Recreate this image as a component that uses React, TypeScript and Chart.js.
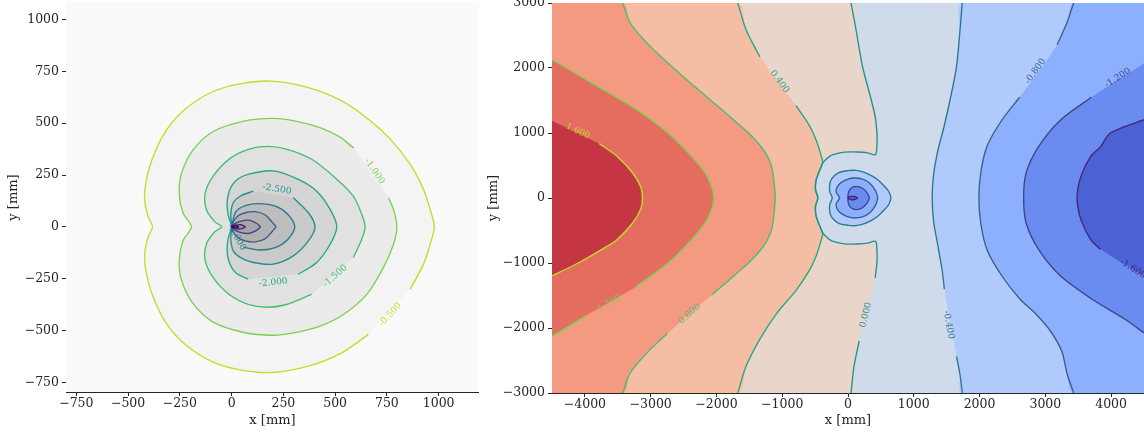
import React, { useEffect, useRef } from "react";
import { Chart, registerables } from "chart.js";

Chart.register(...registerables);

type P = [number, number] | null;

const FONT = "DejaVu Serif";
const INK = "#262626";
const TENSION = 0.3;

/* ======================= LEFT PANEL ======================= */
const L_X_MIN = -800;
const L_X_MAX = 1195;
const L_Y_MIN = -797;
const L_Y_MAX = 1080;
const L_X_TICKS = [-750, -500, -250, 0, 250, 500, 750, 1000];
const L_Y_TICKS = [-750, -500, -250, 0, 250, 500, 750, 1000];
const L_BG = "#fafafa";
const L_LEVELS = [-0.5, -1.0, -1.5, -2.0, -2.5, -3.0, -3.5, -4.0, -4.5, -5.0];
const L_LINE_COLORS = ["#bddf26", "#7ad151", "#44bf70", "#22a884", "#21918c", "#2a788e", "#355f8d", "#414487", "#482475", "#440154"];
const L_FILL_COLORS = ["#f4f4f4", "#ebebeb", "#e1e1e1", "#d5d5d5", "#cacaca", "#bebebe", "#b2b2b2", "#a6a6a6", "#9a9a9a", "#8e8e8e"];

// contour paths (mm); labelled loops start/end at the label gap
const L_C050: P[] = [[863, -301], [927, -180], [959, -84], [979, 0], [959, 84], [927, 180], [863, 301], [766, 423], [661, 519], [532, 608], [371, 672], [190, 703], [40, 690], [-89, 653], [-218, 573], [-314, 468], [-379, 339], [-415, 210], [-420, 129], [-403, 48], [-382, 0], [-403, -48], [-420, -129], [-415, -210], [-379, -339], [-314, -468], [-218, -573], [-89, -653], [40, -690], [190, -703], [371, -672], [532, -608], [661, -519]];
const L_C100: P[] = [[590, 380], [520, 435], [430, 478], [320, 508], [200, 523], [60, 510], [-89, 460], [-186, 371], [-242, 258], [-253, 161], [-234, 65], [-194, 0], [-234, -65], [-253, -161], [-242, -258], [-186, -371], [-89, -460], [60, -510], [200, -523], [320, -508], [430, -478], [540, -423], [653, -326], [733, -197], [782, -84], [798, 0], [782, 84], [758, 140]];
const L_C150: P[] = [[588, -148], [629, -59], [645, 0], [629, 59], [588, 148], [500, 237], [387, 326], [260, 376], [170, 388], [80, 374], [-10, 328], [-89, 245], [-128, 161], [-121, 81], [-81, 24], [-48, 0], [-81, -24], [-121, -81], [-128, -161], [-89, -245], [-10, -328], [80, -374], [170, -388], [260, -376], [387, -326]];
const L_C200: P[] = [[322, -229], [411, -172], [476, -84], [508, 0], [476, 84], [411, 172], [322, 229], [201, 270], [80, 253], [20, 222], [-12, 170], [-22, 110], [-15, 50], [0, 0], [-15, -50], [-22, -110], [-12, -170], [20, -222], [80, -253]];
const L_C250: P[] = [[105, 172], [45, 150], [8, 116], [-4, 60], [0, 0], [-4, -60], [8, -116], [45, -150], [105, -172], [201, -180], [298, -140], [371, -68], [403, 0], [371, 68], [298, 140]];
const L_C300: P[] = [[56, -98], [131, -112], [211, -100], [270, -62], [305, 0], [270, 62], [211, 100], [131, 112], [66, 102], [20, 72], [0, 0]];
const L_C350: P[] = [[215, 0], [195, 24], [163, 57], [114, 73], [66, 68], [26, 48], [0, 0], [26, -48], [66, -68], [114, -73], [163, -57], [195, -24], [215, 0]];
const L_C400: P[] = [[140, 0], [122, 16], [82, 32], [34, 24], [0, 0], [34, -24], [82, -32], [122, -16], [140, 0]];
const L_C450: P[] = [[68, 0], [45, 10], [17, 8], [0, 0], [17, -8], [45, -10], [68, 0]];
const L_C500: P[] = [[36, 0], [22, 4], [8, 3], [0, 0], [8, -3], [22, -4], [36, 0]];
const L_PATHS = [L_C050, L_C100, L_C150, L_C200, L_C250, L_C300, L_C350, L_C400, L_C450, L_C500];
const L_LABEL_AT: ([number, number] | null)[] = [[766, -423], [690, 268], [500, -237], [201, -269], [219, 181], [24, -51], null, null, null, null];

/* ======================= RIGHT PANEL ======================= */
const R_X_MIN = -4500;
const R_X_MAX = 4500;
const R_Y_MIN = -3000;
const R_Y_MAX = 3000;
const R_X_TICKS = [-4000, -3000, -2000, -1000, 0, 1000, 2000, 3000, 4000];
const R_Y_TICKS = [-3000, -2000, -1000, 0, 1000, 2000, 3000];
const R_LEVELS = [1.6, 1.2, 0.8, 0.4, 0.0, -0.4, -0.8, -1.2, -1.6];
const R_LINE_COLORS = ["#bddf26", "#7ad151", "#44bf70", "#22a884", "#21918c", "#2a788e", "#355f8d", "#414487", "#482475"];
// band colours from highest (>1.6) to lowest (<-1.6)
const R_BANDS = ["#c63543", "#e46d60", "#f49a81", "#f6bda5", "#e9d5ca", "#cfdaea", "#b0cafc", "#8db0fe", "#6a8cf0", "#4a62d3"];

const R_C160: P[] = [[-4500, 1190], null, [-3780, 836], [-3512, 641], [-3274, 385], [-3150, 170], [-3125, 0], [-3150, -170], [-3274, -385], [-3512, -641], [-3749, -795], [-4100, -1000], [-4500, -1200]];
const R_C120: P[] = [[-4500, 2128], [-3810, 1718], [-3214, 1359], [-2738, 1000], [-2381, 641], [-2143, 333], [-2042, 0], [-2143, -333], [-2381, -641], [-2738, -1000], [-3214, -1359], null, [-4000, -1820], [-4500, -2128]];
const R_C080: P[] = [[-3425, 3000], [-3311, 2692], [-3080, 2410], [-2870, 2200], [-2640, 1990], [-2350, 1730], [-2070, 1490], [-1870, 1320], [-1670, 1140], [-1500, 990], [-1345, 820], [-1240, 670], [-1161, 487], [-1125, 250], [-1107, 0], [-1125, -250], [-1161, -487], [-1240, -670], [-1345, -820], [-1500, -990], [-1670, -1140], [-1870, -1320], [-2070, -1490], null, [-2750, -2090], [-2870, -2200], [-3080, -2410], [-3311, -2692], [-3425, -3000]];
const R_C040: P[] = [[-1676, 3000], [-1550, 2590], [-1340, 2170], null, [-790, 1420], [-585, 1110], [-480, 880], [-420, 690], [-383, 540], [-407, 486], [-483, 282], [-494, 128], [-459, 0], [-494, -128], [-483, -282], [-407, -486], [-383, -540], [-420, -690], [-480, -880], [-585, -1110], [-790, -1420], [-1080, -1770], [-1340, -2170], [-1550, -2590], [-1676, -3000]];
const R_C000: P[] = [[46, 3000], [120, 2600], [220, 2025], [330, 1600], [412, 1256], [440, 1000], [440, 830], [418, 666], [300, 695], [150, 708], [-53, 705], [-200, 675], [-281, 640], [-383, 540], [-407, 486], [-483, 282], [-494, 128], [-459, 0], [-494, -128], [-483, -282], [-407, -486], [-383, -540], [-281, -640], [-200, -675], [-53, -705], [150, -708], [300, -695], [418, -666], [440, -830], [440, -1000], [412, -1230], null, [170, -2200], [90, -2600], [46, -3000]];
const R_CM040: P[] = [[1737, 3000], [1700, 2550], [1650, 2025], [1560, 1550], [1460, 1100], [1360, 700], [1300, 350], [1280, 0], [1300, -350], [1360, -700], [1430, -1100], [1465, -1400], null, [1650, -2437], [1700, -2700], [1737, -3000]];
const R_CM080: P[] = [[3430, 3000], [3330, 2700], [3180, 2358], null, [2610, 1550], [2340, 1200], [2115, 800], [2020, 400], [1990, 0], [2020, -400], [2115, -800], [2340, -1200], [2610, -1550], [2870, -1800], [3080, -2050], [3250, -2358], [3330, -2700], [3430, -3000]];
const R_CM120: P[] = [[4500, 2075], null, [3700, 1550], [3220, 1190], [2890, 780], [2708, 385], [2670, 0], [2708, -385], [2890, -780], [3220, -1190], [3700, -1550], [4217, -1870], [4500, -2075]];
const R_CM160: P[] = [[4500, 1205], [3988, 1000], [3840, 790], [3690, 641], [3541, 333], [3482, 0], [3541, -333], [3690, -641], [3840, -790], null, [4500, -1205]];
const R_PATHS = [R_C160, R_C120, R_C080, R_C040, R_C000, R_CM040, R_CM080, R_CM120, R_CM160];
const R_LABEL_AT: [number, number][] = [[-4107, 1026], [-3632, -1615], [-2406, -1785], [-1040, 1790], [270, -1800], [1530, -1950], [2850, 1950], [4102, 1846], [4330, -1090]];

// closed contours around the source near the origin
const R_BM040: P[] = [[656, 0], [620, 100], [555, 178], [470, 265], [377, 332], [250, 395], [125, 425], [0, 420], [-129, 395], [-215, 335], [-265, 260], [-281, 178], [-275, 90], [-240, 0], [-275, -90], [-281, -178], [-265, -260], [-215, -335], [-129, -395], [0, -420], [125, -425], [250, -395], [377, -332], [470, -265], [555, -178], [620, -100], [656, 0]];
const R_BM080: P[] = [[453, 0], [420, 110], [327, 231], [220, 290], [99, 307], [0, 290], [-100, 240], [-165, 170], [-180, 90], [-129, 0], [-180, -90], [-165, -170], [-100, -240], [0, -290], [99, -307], [220, -290], [327, -231], [420, -110], [453, 0]];
const R_BM120: P[] = [[327, 0], [290, 80], [220, 150], [125, 178], [45, 150], [5, 80], [0, 0], [5, -80], [45, -150], [125, -178], [220, -150], [290, -80], [327, 0]];
const R_BM160: P[] = [[149, 0], [110, 20], [60, 28], [20, 18], [0, 0], [20, -18], [60, -28], [110, -20], [149, 0]];
const R_BLOB = [R_BM040, R_BM080, R_BM120, R_BM160];
const R_BLOB_LEVELS = [-0.4, -0.8, -1.2, -1.6];

/* ======================= helpers ======================= */
const xy = (pts: P[]) => pts.filter((p) => p !== null).map((p) => ({ x: (p as any)[0], y: (p as any)[1] }));

function split(pts: P[]): [number, number][][] {
  const out: [number, number][][] = [[]];
  for (const p of pts) {
    if (p === null) out.push([]);
    else out[out.length - 1].push(p);
  }
  return out.filter((s) => s.length > 1);
}

function gapEnds(pts: P[]): [[number, number], [number, number]] {
  const i = pts.indexOf(null);
  if (i >= 0) return [pts[i - 1] as any, pts[i + 1] as any];
  return [pts[pts.length - 1] as any, pts[0] as any];
}

const fillDs = (pts: P[], color: string) => ({
  data: xy(pts),
  fill: "shape",
  backgroundColor: color,
  borderColor: "rgba(0,0,0,0)",
  borderWidth: 0,
  pointRadius: 0,
  tension: TENSION,
});

const lineDs = (pts: P[], color: string) => ({
  data: xy(pts),
  fill: false,
  borderColor: color,
  borderWidth: 1.35,
  pointRadius: 0,
  tension: TENSION,
});

const fmt = (v: number) => (v < 0 ? "\u2212" + Math.abs(v) : String(v));

function scale(min: number, max: number, ticks: number[], title: string, isX: boolean, size: number) {
  return {
    type: "linear",
    min,
    max,
    afterBuildTicks: (ax: any) => {
      ax.ticks = ticks.map((v) => ({ value: v }));
    },
    afterFit: (ax: any) => {
      if (isX) ax.height = size;
      else ax.width = size;
      ax.paddingLeft = 0;
      ax.paddingRight = 0;
      ax.paddingTop = 0;
      ax.paddingBottom = 0;
    },
    grid: { display: true, drawOnChartArea: false, drawTicks: true, tickLength: 4, color: INK, tickColor: INK, lineWidth: 1 },
    border: { display: true, color: INK, width: 1 },
    ticks: {
      autoSkip: false,
      maxRotation: 0,
      minRotation: 0,
      padding: isX ? 0 : 3,
      color: INK,
      font: { family: FONT, size: 12.5 },
      callback: (v: any) => fmt(Number(v)),
    },
    title: {
      display: true,
      text: title,
      color: INK,
      font: { family: FONT, size: 13 },
      padding: isX ? { top: 0, bottom: 6.5 } : { top: 6, bottom: 0 },
    },
  };
}

type Lbl = { text: string; at: [number, number]; color: string; g: [[number, number], [number, number]] };

function labelPlugin(items: Lbl[]) {
  return {
    id: "clabels",
    afterDatasetsDraw(chart: any) {
      const { ctx } = chart;
      const xs = chart.scales.x;
      const ys = chart.scales.y;
      ctx.save();
      ctx.font = `9px "${FONT}"`;
      ctx.textAlign = "center";
      ctx.textBaseline = "middle";
      for (const it of items) {
        const ax = xs.getPixelForValue(it.g[0][0]);
        const ay = ys.getPixelForValue(it.g[0][1]);
        const bx = xs.getPixelForValue(it.g[1][0]);
        const by = ys.getPixelForValue(it.g[1][1]);
        let a = Math.atan2(by - ay, bx - ax);
        if (a > Math.PI / 2) a -= Math.PI;
        if (a < -Math.PI / 2) a += Math.PI;
        const px = xs.getPixelForValue(it.at[0]);
        const py = ys.getPixelForValue(it.at[1]);
        ctx.save();
        ctx.translate(px, py);
        ctx.rotate(a);
        ctx.fillStyle = it.color;
        ctx.fillText(it.text, 0, 0);
        ctx.restore();
      }
      ctx.restore();
    },
  };
}

function bgPlugin(color: string) {
  return {
    id: "areabg",
    beforeDatasetsDraw(chart: any) {
      const { ctx, chartArea: a } = chart;
      ctx.save();
      ctx.fillStyle = color;
      ctx.fillRect(a.left, a.top, a.right - a.left, a.bottom - a.top);
      ctx.restore();
    },
  };
}

function withOrder(layers: any[]) {
  return layers.map((d, i) => ({ ...d, order: layers.length - i }));
}

function baseOptions(scales: any, padRight: number) {
  return {
    responsive: false,
    maintainAspectRatio: false,
    animation: false,
    events: [],
    layout: { padding: { left: 0, right: padRight, top: 3, bottom: 0 } },
    plugins: { legend: { display: false }, tooltip: { enabled: false } },
    elements: { point: { radius: 0 } },
    scales,
  };
}

function leftConfig(): any {
  const layers: any[] = [];
  L_PATHS.forEach((pts, i) => layers.push(fillDs(pts, L_FILL_COLORS[i])));
  L_PATHS.forEach((pts, i) => split(pts).forEach((s) => layers.push(lineDs(s, L_LINE_COLORS[i]))));
  const labels: Lbl[] = [];
  L_PATHS.forEach((pts, i) => {
    const at = L_LABEL_AT[i];
    if (at) labels.push({ text: L_LEVELS[i].toFixed(3), at, color: L_LINE_COLORS[i], g: gapEnds(pts) });
  });
  return {
    type: "line",
    data: { datasets: withOrder(layers) },
    options: baseOptions(
      {
        x: scale(L_X_MIN, L_X_MAX, L_X_TICKS, "x [mm]", true, 43),
        y: scale(L_Y_MIN, L_Y_MAX, L_Y_TICKS, "y [mm]", false, 66),
      },
      0
    ),
    plugins: [bgPlugin(L_BG), labelPlugin(labels)],
  };
}

function rightConfig(): any {
  const layers: any[] = [];
  const TL: P = [R_X_MIN, R_Y_MAX];
  const BL: P = [R_X_MIN, R_Y_MIN];
  const TR: P = [R_X_MAX, R_Y_MAX];
  const BR: P = [R_X_MAX, R_Y_MIN];
  const bandAbove = (lv: number) => R_BANDS[Math.round((1.6 - lv) / 0.4)];
  const bandBelow = (lv: number) => R_BANDS[Math.round((1.6 - lv) / 0.4) + 1];
  // high side: widest first
  [4, 3, 2, 1, 0].forEach((i) => {
    const pts = R_PATHS[i];
    const first = pts[0] as [number, number];
    const needCorners = Math.abs(first[1]) >= R_Y_MAX;
    layers.push(fillDs(needCorners ? [TL, ...pts, BL] : pts, bandAbove(R_LEVELS[i])));
  });
  // low side
  [5, 6, 7, 8].forEach((i) => {
    const pts = R_PATHS[i];
    const first = pts[0] as [number, number];
    const needCorners = Math.abs(first[1]) >= R_Y_MAX;
    layers.push(fillDs(needCorners ? [TR, ...pts, BR] : pts, bandBelow(R_LEVELS[i])));
  });
  R_BLOB.forEach((pts, i) => layers.push(fillDs(pts, bandBelow(R_BLOB_LEVELS[i]))));
  R_PATHS.forEach((pts, i) => split(pts).forEach((s) => layers.push(lineDs(s, R_LINE_COLORS[i]))));
  R_BLOB.forEach((pts, i) => layers.push(lineDs(pts, R_LINE_COLORS[R_LEVELS.indexOf(R_BLOB_LEVELS[i])])));
  const labels: Lbl[] = R_PATHS.map((pts, i) => ({
    text: R_LEVELS[i].toFixed(3),
    at: R_LABEL_AT[i],
    color: R_LINE_COLORS[i],
    g: gapEnds(pts),
  }));
  return {
    type: "line",
    data: { datasets: withOrder(layers) },
    options: baseOptions(
      {
        x: scale(R_X_MIN, R_X_MAX, R_X_TICKS, "x [mm]", true, 42),
        y: scale(R_Y_MIN, R_Y_MAX, R_Y_TICKS, "y [mm]", false, 72),
      },
      0
    ),
    plugins: [bgPlugin(R_BANDS[5]), labelPlugin(labels)],
  };
}

function Panel(props: { left: number; width: number; height: number; make: () => any }) {
  const ref = useRef<HTMLCanvasElement | null>(null);
  useEffect(() => {
    const chart = new Chart(ref.current as HTMLCanvasElement, props.make());
    return () => chart.destroy();
  }, []);
  return (
    <canvas
      ref={ref}
      width={props.width}
      height={props.height}
      style={{ position: "absolute", left: props.left, top: 0, width: props.width, height: props.height }}
    />
  );
}

export default function App() {
  return (
    <div style={{ position: "fixed", left: 0, top: 0, width: 1144, height: 435, background: "#ffffff", overflow: "hidden" }}>
      <Panel left={0} width={479} height={435} make={leftConfig} />
      <Panel left={480} width={664} height={435} make={rightConfig} />
    </div>
  );
}
